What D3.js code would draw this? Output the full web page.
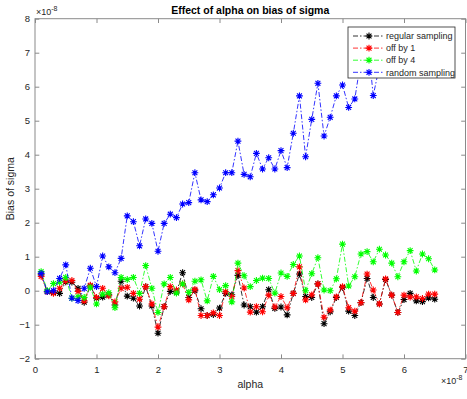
<!DOCTYPE html>
<html><head><meta charset="utf-8">
<script src="https://cdn.jsdelivr.net/npm/d3@7"></script>
<style>html,body{margin:0;padding:0;background:#fff;}svg{display:block;font-family:"Liberation Sans",Arial,sans-serif;}</style>
</head><body>
<script>
const alpha = [0.1,0.2,0.3,0.4,0.5,0.6,0.7,0.8,0.9,1.0,1.1,1.2,1.3,1.4,1.5,1.6,1.7,1.8,1.9,2.0,2.1,2.2,2.3,2.4,2.5,2.6,2.7,2.8,2.9,3.0,3.1,3.2,3.3,3.4,3.5,3.6,3.7,3.8,3.9,4.0,4.1,4.2,4.3,4.4,4.5,4.6,4.7,4.8,4.9,5.0,5.1,5.2,5.3,5.4,5.5,5.6,5.7,5.8,5.9,6.0,6.1,6.2,6.3,6.4,6.5];
const regular = [0.47,-0.03,-0.05,-0.08,0.26,0.25,0.07,-0.34,0.14,-0.22,-0.19,-0.12,-0.42,0.28,-0.16,-0.22,-0.45,0.12,-0.45,-1.25,-0.47,-0.02,-0.04,0.53,-0.2,0.0,-0.53,-0.73,-0.7,-0.51,-0.08,-0.12,0.45,-0.42,-0.47,-0.63,-0.47,0.03,-0.52,-0.48,-0.71,-0.08,0.49,-0.17,-0.2,0.2,-0.97,-0.62,-0.2,0.1,-0.6,-0.73,-0.35,0.36,-0.2,-0.39,0.33,-0.13,-0.64,-0.26,-0.08,-0.3,-0.32,-0.21,-0.25];
const offBy1 = [0.42,-0.03,-0.08,0.07,0.28,0.3,-0.02,-0.3,0.16,-0.2,0.07,-0.15,-0.33,0.07,0.1,-0.08,-0.25,0.12,-0.39,-1.07,-0.47,0.12,0.02,0.2,-0.27,0.04,-0.73,-0.73,-0.65,-0.73,-0.03,-0.17,0.59,0.08,-0.63,-0.47,-0.62,-0.13,-0.48,-0.17,-0.5,-0.08,0.7,-0.27,-0.12,0.2,-0.78,-0.57,-0.18,0.12,-0.5,-0.6,-0.35,0.49,0.02,-0.39,0.35,-0.13,-0.64,-0.13,-0.19,-0.18,-0.23,-0.1,-0.1];
const offBy4 = [0.56,0.0,0.21,0.25,0.39,-0.22,-0.18,-0.2,0.1,-0.39,-0.1,-0.06,-0.5,0.39,0.33,0.39,-0.08,0.74,0.07,-0.64,0.2,0.39,-0.07,0.2,-0.05,0.28,0.32,-0.3,0.42,0.03,0.15,-0.33,0.81,0.44,0.12,0.3,0.37,0.36,-0.07,0.52,0.42,0.77,1.02,0.0,0.5,0.97,0.02,0.0,0.35,1.37,0.14,0.41,1.08,1.15,0.85,1.22,1.05,0.81,0.41,0.85,1.18,0.58,1.08,0.94,0.61];
const randomS = [0.51,-0.03,0.0,0.36,0.76,-0.22,-0.29,0.07,0.66,0.12,1.02,0.7,0.53,0.95,2.2,2.03,1.32,2.11,1.98,1.16,1.98,2.25,2.15,2.55,2.59,3.47,2.67,2.62,2.82,3.02,3.47,3.47,4.4,3.42,3.35,4.04,3.58,3.91,3.58,4.12,3.62,4.63,5.73,3.94,5.04,6.1,4.55,5.1,5.73,6.05,5.39,5.64,6.8,7.5,5.74,6.6,7.0,6.8,7.2,6.9,7.3,7.0,7.4,7.1,7.4];
const seriesNames = ["regular sampling","off by 1","off by 4","random sampling"];
const seriesColors = ["#000000","#ff0000","#00ff00","#0000ff"];
const xTicks = [0,1,2,3,4,5,6,7];
const yTicks = [-2,-1,0,1,2,3,4,5,6,7,8];

const W=467,H=399;
const L=35,R=465.5,T=18.7,B=358.7;
const svg=d3.select("body").append("svg").attr("width",W).attr("height",H);
svg.append("rect").attr("width",W).attr("height",H).attr("fill","#fff");
const x=d3.scaleLinear().domain([0,7]).range([L,R]);
const y=d3.scaleLinear().domain([-2,8]).range([B,T]);
const axCol="#262626", boxCol="#8a8a8a";
const tl=4.3;

const gx=svg.append("g").attr("transform",`translate(0,${B})`)
  .call(d3.axisBottom(x).tickValues(xTicks).tickSize(-tl).tickPadding(8).tickFormat(d3.format("d")));
const gxt=svg.append("g").attr("transform",`translate(0,${T})`)
  .call(d3.axisTop(x).tickValues(xTicks).tickSize(-tl).tickFormat(""));
const gy=svg.append("g").attr("transform",`translate(${L},0)`)
  .call(d3.axisLeft(y).tickValues(yTicks).tickSize(-tl).tickPadding(5).tickFormat(d3.format("d")));
const gyr=svg.append("g").attr("transform",`translate(${R},0)`)
  .call(d3.axisRight(y).tickValues(yTicks).tickSize(-tl).tickFormat(""));
[gx,gxt,gy,gyr].forEach(g=>{
  g.select(".domain").remove();
  g.selectAll(".tick line").attr("stroke",boxCol).attr("stroke-width",1);
  g.selectAll(".tick text").attr("fill",axCol).style("font-size","9.5px").style("font-family","'Liberation Sans',Arial,sans-serif");
});
svg.append("rect").attr("x",L).attr("y",T).attr("width",R-L).attr("height",B-T)
  .attr("fill","none").attr("stroke",boxCol).attr("stroke-width",1);

const allSeries=[regular,offBy1,offBy4,randomS];
function star(g,cx,cy,col){
  const r=3.4,d=r*0.72;
  g.append("path").attr("d",`M${cx-r},${cy}L${cx+r},${cy}M${cx},${cy-r}L${cx},${cy+r}M${cx-d},${cy-d}L${cx+d},${cy+d}M${cx-d},${cy+d}L${cx+d},${cy-d}`)
   .attr("stroke",col).attr("stroke-width",1.1).attr("fill","none");
}
const line=d3.line().x(d=>x(d[0])).y(d=>y(d[1]));
allSeries.forEach((vals,k)=>{
  const pts=alpha.map((a,i)=>[a,vals[i]]);
  const g=svg.append("g");
  g.append("path").attr("d",line(pts)).attr("fill","none").attr("stroke",seriesColors[k])
   .attr("stroke-width",0.8).attr("stroke-dasharray","5,2,1.5,2");
  pts.forEach(p=>star(g,x(p[0]),y(p[1]),seriesColors[k]));
});

const lg=svg.append("g");
lg.append("rect").attr("x",348).attr("y",27).attr("width",107).attr("height",51)
  .attr("fill","#fff").attr("stroke",axCol).attr("stroke-width",0.8);
seriesNames.forEach((n,k)=>{
  const yy=36+k*12.1;
  lg.append("line").attr("x1",353).attr("x2",383).attr("y1",yy).attr("y2",yy)
    .attr("stroke",seriesColors[k]).attr("stroke-width",0.8).attr("stroke-dasharray","5,2,1.5,2");
  star(lg,369,yy,seriesColors[k]);
  lg.append("text").attr("x",386).attr("y",yy+3.2).text(n).attr("fill",axCol).style("font-size","9px");
});

svg.append("text").attr("x",(L+R)/2).attr("y",13.5).attr("text-anchor","middle")
  .style("font-weight","bold").style("font-size","10.5px").attr("fill","#000").text("Effect of alpha on bias of sigma");
svg.append("text").attr("x",(L+R)/2).attr("y",388).attr("text-anchor","middle")
  .style("font-size","10.5px").attr("fill",axCol).text("alpha");
svg.append("text").attr("transform",`translate(14,${(T+B)/2}) rotate(-90)`).attr("text-anchor","middle")
  .style("font-size","10.5px").attr("fill",axCol).text("Bias of sigma");
function expo(xp,yp){
  const t=svg.append("text").attr("x",xp).attr("y",yp).attr("fill",axCol).style("font-size","9px");
  t.append("tspan").text("\u00d710");
  t.append("tspan").attr("dy",-4).style("font-size","7px").text("-8");
}
expo(36,15);
expo(441,384);
</script>
</body></html>
